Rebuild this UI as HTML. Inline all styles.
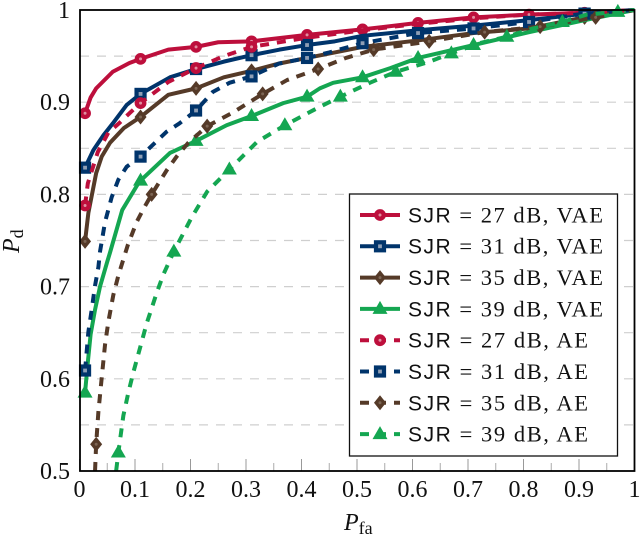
<!DOCTYPE html>
<html>
<head>
<meta charset="utf-8">
<style>
html,body{margin:0;padding:0;background:#fff;width:640px;height:535px;overflow:hidden}
svg{display:block}
text{font-family:"Liberation Serif",serif;fill:#111}
.sans{font-family:"Liberation Sans",sans-serif;font-size:21px}
</style>
</head>
<body>
<svg id="chart" width="640" height="535" viewBox="0 0 640 535">
  <g id="grid"></g>
  <g id="ticks"></g>
  <g id="series"></g>
  <rect x="80" y="10" width="554.5" height="461" fill="none" stroke="#000" stroke-width="1.8"/>
  <g id="labels"></g>
  <text x="344" y="530" font-size="24" font-style="italic">P<tspan dy="4" font-size="18" font-style="normal">fa</tspan></text>
  <text transform="translate(19,253) rotate(-90)" font-size="24" font-style="italic">P<tspan dy="4" font-size="18" font-style="normal">d</tspan></text>
  <g>
    <rect x="349.5" y="194" width="268" height="262" fill="#fff" stroke="#111" stroke-width="1.3"/>
    <g id="legend-0"><text x="408" y="222.5" font-size="22.5" textLength="195"><tspan class="sans">SJR</tspan> = 27 dB, VAE</text></g>
    <g id="legend-1"><text x="408" y="253.5" font-size="22.5" textLength="195"><tspan class="sans">SJR</tspan> = 31 dB, VAE</text></g>
    <g id="legend-2"><text x="408" y="285" font-size="22.5" textLength="195"><tspan class="sans">SJR</tspan> = 35 dB, VAE</text></g>
    <g id="legend-3"><text x="408" y="316.5" font-size="22.5" textLength="195"><tspan class="sans">SJR</tspan> = 39 dB, VAE</text></g>
    <g id="legend-4"><text x="408" y="347.5" font-size="22.5" textLength="180"><tspan class="sans">SJR</tspan> = 27 dB, AE</text></g>
    <g id="legend-5"><text x="408" y="379" font-size="22.5" textLength="180"><tspan class="sans">SJR</tspan> = 31 dB, AE</text></g>
    <g id="legend-6"><text x="408" y="410.5" font-size="22.5" textLength="180"><tspan class="sans">SJR</tspan> = 35 dB, AE</text></g>
    <g id="legend-7"><text x="408" y="441.5" font-size="22.5" textLength="180"><tspan class="sans">SJR</tspan> = 39 dB, AE</text></g>
  </g>
</svg>
<script>
var xTickLabels = ['0','0.1','0.2','0.3','0.4','0.5','0.6','0.7','0.8','0.9','1'];
var xTickValues = [0,0.1,0.2,0.3,0.4,0.5,0.6,0.7,0.8,0.9,1];
var yTickLabels = ['0.5','0.6','0.7','0.8','0.9','1'];
var yTickValues = [0.5,0.6,0.7,0.8,0.9,1];
var gridValues = [0.55,0.6,0.65,0.7,0.75,0.8,0.85,0.9,0.95];

var vae27X = [0.01,0.02,0.03,0.06,0.09,0.11,0.16,0.21,0.25,0.31,0.41,0.51,0.61,0.71,0.81,0.91,1];
var vae27Y = [0.888,0.905,0.915,0.933,0.9425,0.947,0.957,0.96,0.965,0.966,0.973,0.979,0.986,0.992,0.995,0.997,1];
var vae27Marks = [0.01,0.11,0.21,0.31,0.41,0.51,0.61,0.71,0.81,0.91];

var vae31X = [0.01,0.025,0.043,0.06,0.085,0.11,0.163,0.21,0.26,0.31,0.36,0.41,0.46,0.51,0.61,0.71,0.81,0.91,1];
var vae31Y = [0.829,0.848,0.864,0.877,0.897,0.909,0.927,0.936,0.944,0.951,0.957,0.962,0.966,0.972,0.978,0.983,0.989,0.996,1];
var vae31Marks = [0.01,0.11,0.21,0.31,0.41,0.91];

var vae35X = [0.01,0.016,0.03,0.04,0.055,0.08,0.11,0.16,0.21,0.26,0.31,0.36,0.41,0.46,0.51,0.61,0.71,0.81,0.91,1];
var vae35Y = [0.749,0.78,0.823,0.841,0.856,0.872,0.884,0.908,0.915,0.927,0.934,0.942,0.948,0.954,0.96,0.967,0.975,0.98,0.992,1];
var vae35Marks = [0.01,0.11,0.21,0.31,0.91];

var vae39X = [0.01,0.015,0.02,0.028,0.037,0.05,0.055,0.077,0.105,0.11,0.163,0.21,0.265,0.31,0.367,0.41,0.433,0.457,0.51,0.56,0.61,0.71,0.81,0.91,1];
var vae39Y = [0.585,0.618,0.648,0.675,0.7,0.727,0.737,0.783,0.811,0.815,0.845,0.858,0.875,0.885,0.899,0.906,0.915,0.921,0.927,0.937,0.948,0.962,0.976,0.989,1];
var vae39Marks = [0.01,0.11,0.21,0.31,0.41,0.51,0.61,0.71];

var ae27X = [0.01,0.015,0.033,0.052,0.071,0.09,0.11,0.16,0.21,0.26,0.31,0.41,0.51,0.61,0.71,0.81,0.91,1];
var ae27Y = [0.788,0.812,0.846,0.867,0.877,0.888,0.899,0.922,0.937,0.95,0.96,0.97,0.978,0.985,0.991,0.995,0.997,1];
var ae27Marks = [0.01,0.11,0.21,0.31];

var ae31X = [0.01,0.016,0.022,0.028,0.034,0.037,0.046,0.058,0.07,0.085,0.11,0.136,0.157,0.18,0.21,0.24,0.27,0.31,0.36,0.41,0.45,0.51,0.61,0.71,0.81,0.91,1];
var ae31Y = [0.609,0.651,0.675,0.701,0.721,0.738,0.77,0.797,0.816,0.83,0.841,0.856,0.868,0.877,0.891,0.911,0.921,0.928,0.942,0.948,0.954,0.964,0.975,0.98,0.987,0.996,1];
var ae31Marks = [0.01,0.11,0.21,0.31,0.41,0.51,0.61,0.71,0.81,0.91];

var ae35X = [0.028,0.03,0.034,0.04,0.046,0.052,0.061,0.07,0.087,0.103,0.115,0.13,0.157,0.175,0.196,0.23,0.277,0.33,0.374,0.43,0.48,0.53,0.63,0.73,0.83,0.93,1];
var ae35Y = [0.5,0.529,0.564,0.601,0.637,0.662,0.691,0.712,0.745,0.77,0.784,0.8,0.826,0.841,0.856,0.874,0.889,0.909,0.924,0.936,0.948,0.957,0.966,0.976,0.982,0.992,1];
var ae35Marks = [0.03,0.13,0.23,0.33,0.43,0.53,0.63,0.73,0.83,0.93];

var ae39X = [0.066,0.07,0.079,0.088,0.097,0.112,0.121,0.139,0.151,0.17,0.202,0.23,0.27,0.32,0.37,0.433,0.47,0.523,0.57,0.626,0.67,0.72,0.77,0.817,0.87,0.914,0.97,1];
var ae39Y = [0.5,0.52,0.56,0.585,0.607,0.64,0.66,0.693,0.713,0.738,0.775,0.803,0.827,0.857,0.875,0.895,0.906,0.921,0.933,0.943,0.953,0.964,0.971,0.98,0.987,0.995,0.998,1];
var ae39Marks = [0.07,0.17,0.27,0.37,0.47,0.57,0.67,0.77,0.87,0.97];

var RED = '#bd0f3c', NAVY = '#00346b', BROWN = '#553a28', GREEN = '#14a651';
var SVGNS = 'http://www.w3.org/2000/svg';

function xScale(v){ return 79.5 + v * 555; }
function yScale(v){ return 471 - (v - 0.5) * 922; }

function make(parent, tag, attrs){
  var el = document.createElementNS(SVGNS, tag);
  for (var k in attrs) el.setAttribute(k, attrs[k]);
  parent.appendChild(el);
  return el;
}

var gridG = document.getElementById('grid');
gridValues.forEach(function(v){
  var l = make(gridG, 'line', {x1:80, x2:634, y1:yScale(v), y2:yScale(v), stroke:'#cfcfcf', 'stroke-width':1.2, 'stroke-dasharray':'9 8'});
  
  
});

var ticksG = document.getElementById('ticks');
var labelsG = document.getElementById('labels');
xTickValues.forEach(function(v, i){
  var t = make(ticksG, 'line', {x1:xScale(v), x2:xScale(v), y1:471, y2:459, stroke:'#999', 'stroke-width':1});
  
  
  if (i < xTickValues.length - 1) {
    var m = make(ticksG, 'line', {x1:xScale(v + 0.05), x2:xScale(v + 0.05), y1:471, y2:463, stroke:'#aaa', 'stroke-width':1});
    
    
  }
  var lab = make(labelsG, 'text', {x:xScale(v), y:497, 'font-size':24, 'text-anchor':'middle'});
  lab.textContent = xTickLabels[i];
  
  
});
yTickValues.forEach(function(v, i){
  var lab = make(labelsG, 'text', {x:70, y:yScale(v) + 8, 'font-size':24, 'text-anchor':'end'});
  lab.textContent = yTickLabels[i];
  
  
});

function drawMarker(parent, kind, color, cx, cy){
  var g = make(parent, 'g', {});
  
  
  if (kind === 'circle') {
    make(g, 'circle', {cx:cx, cy:cy, r:3.7, fill:'#e08ea0', stroke:color, 'stroke-width':4.4});
  } else if (kind === 'square') {
    make(g, 'rect', {x:cx-4, y:cy-4, width:8, height:8, fill:'#8f9fb5', stroke:color, 'stroke-width':4.2});
  } else if (kind === 'diamond') {
    make(g, 'polygon', {points:[cx,cy-7.5,cx+6,cy,cx,cy+7.5,cx-6,cy].join(','), fill:color});
    make(g, 'circle', {cx:cx, cy:cy, r:1.5, fill:'#7d6655'});
  } else {
    make(g, 'polygon', {points:[cx,cy-8,cx+7.5,cy+5,cx-7.5,cy+5].join(','), fill:color});
  }
}

var seriesList = [
  {name:'vae-27db', xs:vae27X, ys:vae27Y, marks:vae27Marks, color:RED,   kind:'circle',  dash:false},
  {name:'vae-31db', xs:vae31X, ys:vae31Y, marks:vae31Marks, color:NAVY,  kind:'square',  dash:false},
  {name:'vae-35db', xs:vae35X, ys:vae35Y, marks:vae35Marks, color:BROWN, kind:'diamond', dash:false},
  {name:'vae-39db', xs:vae39X, ys:vae39Y, marks:vae39Marks, color:GREEN, kind:'triangle',dash:false},
  {name:'ae-27db',  xs:ae27X,  ys:ae27Y,  marks:ae27Marks,  color:RED,   kind:'circle',  dash:true},
  {name:'ae-31db',  xs:ae31X,  ys:ae31Y,  marks:ae31Marks,  color:NAVY,  kind:'square',  dash:true},
  {name:'ae-35db',  xs:ae35X,  ys:ae35Y,  marks:ae35Marks,  color:BROWN, kind:'diamond', dash:true},
  {name:'ae-39db',  xs:ae39X,  ys:ae39Y,  marks:ae39Marks,  color:GREEN, kind:'triangle',dash:true}
];

var seriesG = document.getElementById('series');
seriesList.forEach(function(s, idx){
  var g = make(seriesG, 'g', {});
  
  
  var pts = s.xs.map(function(x, i){ return xScale(x).toFixed(2) + ',' + yScale(s.ys[i]).toFixed(2); }).join(' ');
  var attrs = {points:pts, fill:'none', stroke:s.color, 'stroke-width':4, 'stroke-linejoin':'round'};
  if (s.dash) attrs['stroke-dasharray'] = '9 8';
  var line = make(g, 'polyline', attrs);
  
  
  s.xs.forEach(function(x, i){
    if (s.marks.indexOf(x) >= 0) drawMarker(g, s.kind, s.color, xScale(x), yScale(s.ys[i]));
  });

  var entry = document.getElementById('legend-' + idx);
  var ly = 215 + idx * 31.3;
  var sample = {x1:360, x2:400, y1:ly, y2:ly, stroke:s.color, 'stroke-width':4};
  if (s.dash) sample['stroke-dasharray'] = '9 8';
  var sl = make(entry, 'line', sample);
  
  
  drawMarker(entry, s.kind, s.color, 380, ly);
});
</script>
</body>
</html>
